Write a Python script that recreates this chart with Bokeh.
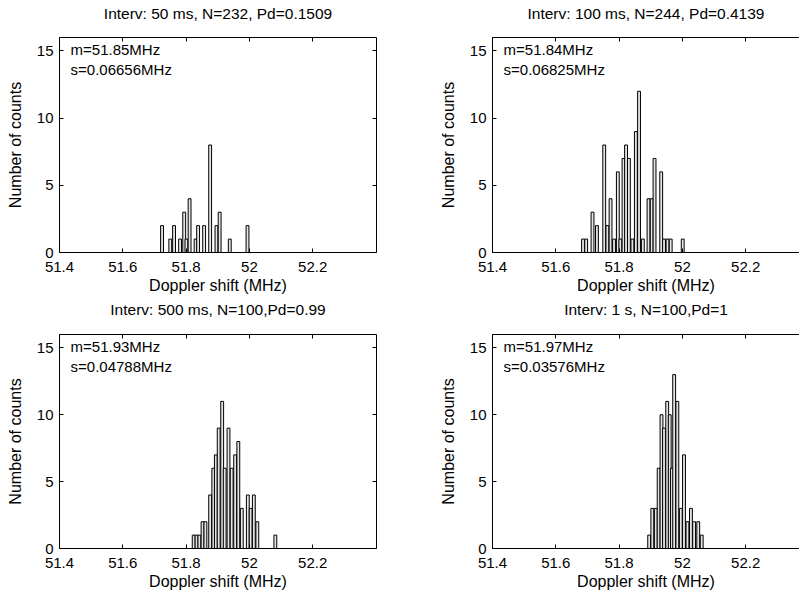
from bokeh.plotting import figure
from bokeh.layouts import column, row
from bokeh.models import Range1d, LinearAxis, FixedTicker, Label
from bokeh.embed import file_html
from bokeh.resources import INLINE

# ---------------- data ----------------
titles = ["Interv: 50 ms, N=232, Pd=0.1509",
          "Interv: 100 ms, N=244, Pd=0.4139",
          "Interv: 500 ms, N=100,Pd=0.99",
          "Interv: 1 s, N=100,Pd=1"]
mean_texts = ["m=51.85MHz", "m=51.84MHz", "m=51.93MHz", "m=51.97MHz"]
std_texts = ["s=0.06656MHz", "s=0.06825MHz", "s=0.04788MHz", "s=0.03576MHz"]

x_ticks = [51.4, 51.6, 51.8, 52.0, 52.2]
x_tick_labels = ["51.4", "51.6", "51.8", "52", "52.2"]
y_ticks = [0, 5, 10, 15]

shift_50ms = [51.724, 51.750, 51.762, 51.781, 51.794, 51.801, 51.811, 51.830,
              51.838, 51.857, 51.876, 51.896, 51.906, 51.938, 51.994]
counts_50ms = [2, 1, 2, 1, 3, 1, 4, 1, 2, 2, 8, 2, 3, 1, 2]

shift_100ms = [51.686, 51.696, 51.716, 51.730, 51.753, 51.763, 51.773, 51.784,
               51.796, 51.804, 51.814, 51.822, 51.831, 51.842, 51.853, 51.863,
               51.875, 51.893, 51.903, 51.912, 51.933, 51.942, 51.953, 51.963,
               52.001]
counts_100ms = [1, 1, 3, 2, 8, 2, 4, 1, 6, 1, 7, 8, 7, 1, 9, 12, 1, 4, 4, 7,
                6, 1, 1, 1, 1]

shift_500ms = [51.824, 51.833, 51.842, 51.852, 51.861, 51.876, 51.886, 51.894,
               51.903, 51.914, 51.922, 51.934, 51.944, 51.955, 51.965, 51.976,
               51.995, 52.004, 52.014, 52.025, 52.082]
counts_500ms = [1, 1, 1, 2, 2, 4, 6, 7, 9, 11, 6, 9, 6, 7, 8, 3, 4, 3, 4, 2, 1]

shift_1s = [51.895, 51.905, 51.916, 51.925, 51.934, 51.942, 51.952, 51.960,
            51.967, 51.974, 51.984, 51.995, 52.005, 52.016, 52.027, 52.037,
            52.050, 52.061]
counts_1s = [1, 3, 3, 6, 10, 9, 11, 10, 6, 13, 11, 3, 7, 2, 3, 2, 2, 1]

FONT = "Liberation Sans"
PX_PER_MHZ = 316.5


def style_axis(ax, labels=True, spacer=0):
    ax.axis_line_color = "black"
    ax.axis_line_width = 1
    ax.major_tick_in = 4
    ax.major_tick_out = 0
    ax.minor_tick_line_color = None
    ax.major_tick_line_color = "black"
    if labels:
        ax.major_label_text_font = FONT
        ax.major_label_text_font_size = "15px"
        ax.major_label_text_color = "black"
        ax.axis_label_text_font = FONT
        ax.axis_label_text_font_size = "16px"
        ax.axis_label_text_font_style = "normal"
        ax.axis_label_text_color = "black"
    else:
        ax.major_label_text_font_size = "0px"
        ax.major_label_text_color = None
        ax.major_label_standoff = 0
        if spacer:
            # invisible axis label that only reserves a gap under the title
            ax.axis_label = " "
            ax.axis_label_text_font_size = "1px"
            ax.axis_label_text_color = None
            ax.axis_label_standoff = spacer


def make_panel(idx, xs, ys, width, height, bl, br, bt, bb, has_right, title_gap):
    frame_w = width - bl - br
    x_end = 51.4 + frame_w / PX_PER_MHZ
    p = figure(width=width, height=height, output_backend="svg",
               toolbar_location=None, x_range=Range1d(51.4, x_end),
               y_range=Range1d(0, 16), title=titles[idx],
               min_border_left=bl, min_border_right=br,
               min_border_top=bt, min_border_bottom=bb,
               x_axis_label="Doppler shift (MHz)",
               y_axis_label="Number of counts")
    p.outline_line_color = None
    p.xgrid.visible = False
    p.ygrid.visible = False
    p.background_fill_color = "white"
    p.border_fill_color = "white"

    p.title.text_font = FONT
    p.title.text_font_size = "15.5px"
    p.title.text_font_style = "normal"
    p.title.text_color = "black"
    p.title.align = "center"
    p.title.standoff = 4
    p.title.offset = 0

    p.xaxis.ticker = FixedTicker(ticks=x_ticks)
    p.xaxis.major_label_overrides = {t: l for t, l in zip(x_ticks, x_tick_labels)}
    p.yaxis.ticker = FixedTicker(ticks=y_ticks)
    style_axis(p.xaxis[0])
    style_axis(p.yaxis[0])
    p.xaxis.major_label_standoff = 9
    p.xaxis.axis_label_standoff = 2
    p.yaxis.major_label_standoff = 6
    p.yaxis.axis_label_standoff = 10

    top_ax = LinearAxis(ticker=FixedTicker(ticks=x_ticks))
    style_axis(top_ax, labels=False, spacer=title_gap)
    p.add_layout(top_ax, "above")
    if has_right:
        right_ax = LinearAxis(ticker=FixedTicker(ticks=y_ticks))
        style_axis(right_ax, labels=False)
        p.add_layout(right_ax, "right")

    p.vbar(x=xs, top=ys, bottom=0, width=0.009,
           fill_color="#e4e4e4", line_color="black", line_width=1)

    p.add_layout(Label(x=51.435, y=15.1, text=mean_texts[idx],
                       text_font=FONT, text_font_size="15px",
                       text_baseline="middle", text_color="black"))
    p.add_layout(Label(x=51.435, y=13.63, text=std_texts[idx],
                       text_font=FONT, text_font_size="15px",
                       text_baseline="middle", text_color="black"))
    return p


p1 = make_panel(0, shift_50ms, counts_50ms, 420, 296, 59, 44, 35, 44, True, 10)
p2 = make_panel(1, shift_100ms, counts_100ms, 379, 296, 72, 0, 35, 44, False, 10)
p3 = make_panel(2, shift_500ms, counts_500ms, 420, 302, 59, 44, 36, 50, True, 11)
p4 = make_panel(3, shift_1s, counts_1s, 379, 302, 72, 0, 36, 50, False, 11)

layout = column(row(p1, p2), row(p3, p4))

open("out.html", "w").write(file_html(layout, INLINE))
